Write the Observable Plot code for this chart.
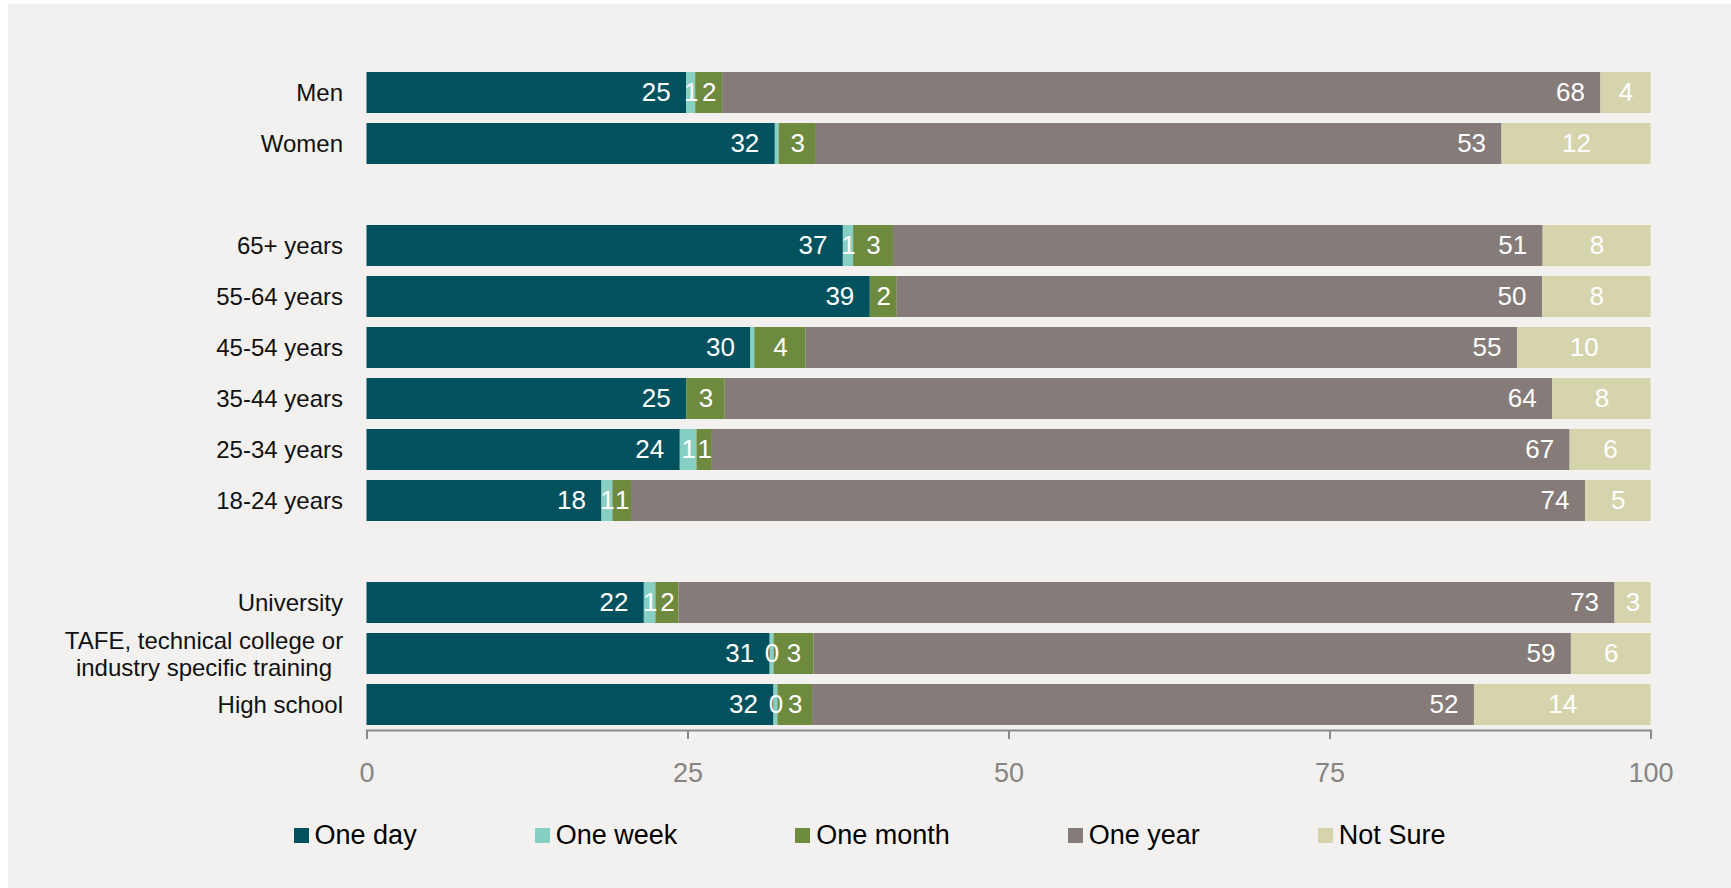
<!DOCTYPE html>
<html>
<head>
<meta charset="utf-8">
<script src="https://cdn.jsdelivr.net/npm/d3@7"></script>
<script src="https://cdn.jsdelivr.net/npm/@observablehq/plot@0.6"></script>
<style>
  html, body { margin: 0; padding: 0; background: #ffffff; }
  body { width: 1731px; height: 888px; position: relative; overflow: hidden;
         font-family: "Liberation Sans", Arial, Helvetica, sans-serif; }
  #bg { position: absolute; left: 8px; top: 4px; right: 0; bottom: 0; background: #f2f1ef; }
  #chart { position: absolute; left: 0; top: 0; }
  #legend { position: absolute; left: 8px; right: 0; top: 822px; height: 27px;
            display: flex; justify-content: center; align-items: center; }
  .item { display: flex; align-items: center; margin-right: 118px; font-size: 27px; line-height: 27px; color: #000; white-space: nowrap; }
  .item:last-child { margin-right: 0; }
  .sw { width: 15px; height: 15px; margin-right: 6px; flex: none; }
</style>
</head>
<body>
<div id="bg"></div>
<div id="chart"></div>
<div id="legend"></div>
<script>
// ---- Data ----
const genderCats = ["Men", "Women"];
const ageCats = ["65+ years", "55-64 years", "45-54 years", "35-44 years", "25-34 years", "18-24 years"];
const eduCats = ["University", "TAFE, technical college or\nindustry specific training", "High school"];
const categories = [...genderCats, ...ageCats, ...eduCats];

const seriesNames = ["One day", "One week", "One month", "One year", "Not Sure"];
const seriesColors = ["#01525e", "#87cfc3", "#6e8a3e", "#857b78", "#d6d4ad"];
// where each series' label sits in its segment
const labelAnchors = ["end", "mid", "mid", "end", "mid"];

// segment sizes (percent), in category order
const oneDay   = [24.9, 31.8, 37.1, 39.2, 29.9, 24.9, 24.4, 18.3, 21.6, 31.4, 31.7];
const oneWeek  = [0.7, 0.3, 0.8, 0, 0.3, 0, 1.3, 0.85, 0.9, 0.3, 0.3];
const oneMonth = [2.1, 2.9, 3.1, 2.1, 4.0, 3.0, 1.2, 1.45, 1.8, 3.1, 2.7];
const oneYear  = [68.4, 53.4, 50.6, 50.25, 55.4, 64.45, 66.8, 74.3, 72.9, 59.0, 51.55];
const notSure  = [3.9, 11.6, 8.4, 8.45, 10.4, 7.65, 6.3, 5.1, 2.8, 6.2, 13.75];

// printed labels (null = not shown)
const oneDayLabels   = [25, 32, 37, 39, 30, 25, 24, 18, 22, 31, 32];
const oneWeekLabels  = [1, null, 1, null, null, null, 1, 1, 1, 0, 0];
const oneMonthLabels = [2, 3, 3, 2, 4, 3, 1, 1, 2, 3, 3];
const oneYearLabels  = [68, 53, 51, 50, 55, 64, 67, 74, 73, 59, 52];
const notSureLabels  = [4, 12, 8, 8, 10, 8, 6, 5, 3, 6, 14];

const xTicks = [0, 25, 50, 75, 100];

// ---- Build table ----
const seriesValues = [oneDay, oneWeek, oneMonth, oneYear, notSure];
const seriesLabels = [oneDayLabels, oneWeekLabels, oneMonthLabels, oneYearLabels, notSureLabels];
const rows = [];
categories.forEach((cat, i) => {
  seriesNames.forEach((s, j) => {
    rows.push({cat, series: s, value: seriesValues[j][i], label: seriesLabels[j][i], anchor: labelAnchors[j]});
  });
});
const yDomain = [...genderCats, "gap1", ...ageCats, "gap2", ...eduCats];
const tafe = eduCats[1];
const plainCats = categories.filter(c => c !== tafe);

const font = '"Liberation Sans", Arial, Helvetica, sans-serif';
const chart = Plot.plot({
  width: 1731,
  height: 800,
  marginLeft: 366.5,
  marginRight: 80.5,
  marginTop: 0,
  marginBottom: 70,
  style: {background: "transparent", fontFamily: font, overflow: "visible"},
  x: {domain: [0, 100], label: null},
  y: {domain: yDomain, range: [71.7, 725.7], paddingInner: 0.2, paddingOuter: 0, label: null},
  color: {domain: seriesNames, range: seriesColors},
  marks: [
    Plot.barX(rows, Plot.stackX({x: "value", y: "cat", fill: "series", inset: 0})),
    Plot.text(rows, Plot.stackX2({
      x: "value", y: "cat",
      text: d => (d.anchor === "end" && d.label != null) ? String(d.label) : null,
      textAnchor: "end", dx: -16, fill: "#ffffff", fontSize: 26
    })),
    Plot.text(rows, Plot.stackX({
      x: "value", y: "cat",
      text: d => (d.anchor === "mid" && d.label != null) ? String(d.label) : null,
      fill: "#ffffff", fontSize: 26
    })),
    Plot.frame({anchor: "bottom", stroke: "#8a8a8a", strokeWidth: 2}),
    Plot.axisX(xTicks, {tickSize: 9, tickPadding: 23, fontSize: 27, stroke: "#8a8a8a", strokeWidth: 2, fill: "#858585", label: null}),
    Plot.axisY(plainCats, {tickSize: 0, tickPadding: 24, fontSize: 24, fill: "#111111", label: null}),
    Plot.axisY([tafe], {tickSize: 0, tickPadding: 163, textAnchor: "middle", lineHeight: 1.1, fontSize: 24, fill: "#111111", label: null})
  ]
});
document.getElementById("chart").appendChild(chart);

// ---- Legend ----
const legend = document.getElementById("legend");
seriesNames.forEach((name, i) => {
  const item = document.createElement("div");
  item.className = "item";
  const sw = document.createElement("span");
  sw.className = "sw";
  sw.style.background = seriesColors[i];
  const t = document.createElement("span");
  t.textContent = name;
  item.appendChild(sw);
  item.appendChild(t);
  legend.appendChild(item);
});
</script>
</body>
</html>
